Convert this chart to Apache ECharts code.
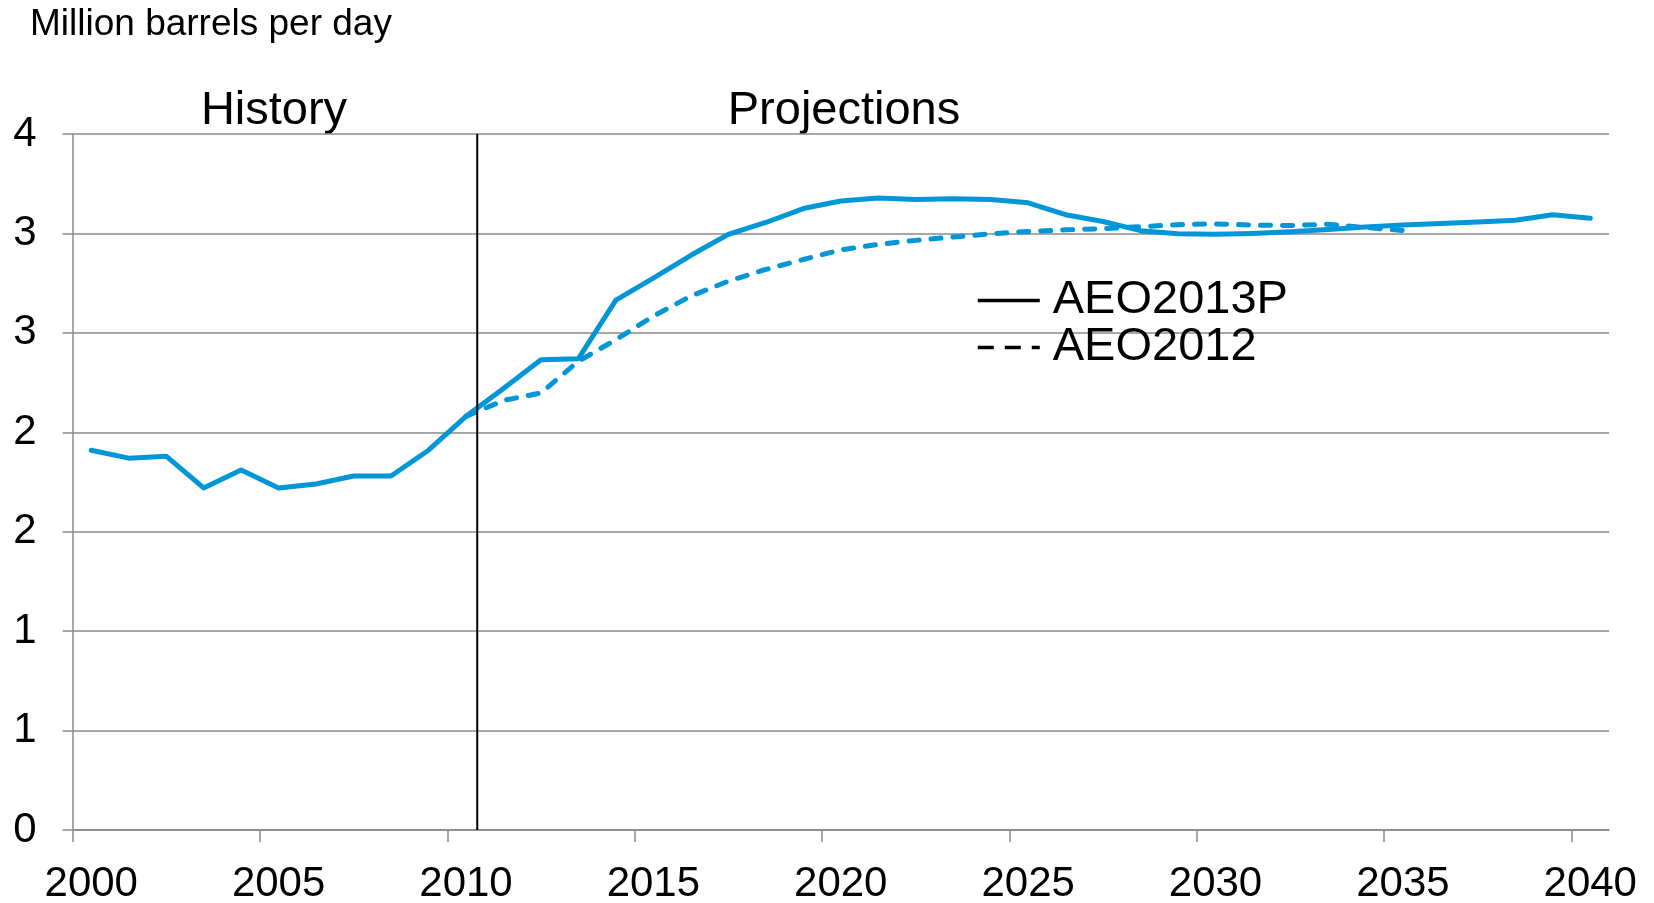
<!DOCTYPE html>
<html>
<head>
<meta charset="utf-8">
<script src="https://cdn.jsdelivr.net/npm/echarts/dist/echarts.min.js"></script>
<style>html,body{margin:0;padding:0;background:#fff}#c{width:1654px;height:903px}</style>
</head>
<body>
<div id="c"></div>
<script>
// ---- data ----
const years = ['2000','2001','2002','2003','2004','2005','2006','2007','2008','2009',
  '2010','2011','2012','2013','2014','2015','2016','2017','2018','2019',
  '2020','2021','2022','2023','2024','2025','2026','2027','2028','2029',
  '2030','2031','2032','2033','2034','2035','2036','2037','2038','2039','2040'];

const aeo2013p = [1.91, 1.87, 1.88, 1.72, 1.81, 1.72, 1.74, 1.78, 1.78, 1.91,
  2.08, 2.22, 2.365, 2.37, 2.665, 2.775, 2.89, 2.995, 3.055, 3.125,
  3.163, 3.178, 3.171, 3.174, 3.171, 3.154, 3.094, 3.06, 3.014, 2.998,
  2.996, 3.0, 3.008, 3.02, 3.032, 3.042, 3.05, 3.057, 3.066, 3.094, 3.076];

const aeo2012 = [null, null, null, null, null, null, null, null, null, null,
  2.08, 2.16, 2.198, 2.357, 2.466, 2.584, 2.685, 2.76, 2.819, 2.869,
  2.917, 2.945, 2.965, 2.982, 2.998, 3.01, 3.018, 3.024, 3.034, 3.044,
  3.048, 3.042, 3.04, 3.046, 3.03, 3.015];

const tickYears = [2000, 2005, 2010, 2015, 2020, 2025, 2030, 2035, 2040];
const yTickLabels = ['0','1','1','2','2','3','3','4'];
const dividerYear = 2010.3;
const seriesNames = ['AEO2013P', 'AEO2012'];
const sectionLabels = ['History', 'Projections'];
const unitLabel = 'Million barrels per day';

// ---- styles ----
const FONT = 'Liberation Sans, Arial, sans-serif';
const BLUE = '#0096D7';
const GRAY = '#8A8A8A';

const chart = echarts.init(document.getElementById('c'));
chart.setOption({
  animation: false,
  backgroundColor: '#fff',
  grid: { left: 72.5, right: 45, top: 134, bottom: 73, outerBoundsMode: 'none' },
  xAxis: [{
    type: 'category',
    data: years,
    boundaryGap: true,
    axisLine: { lineStyle: { color: GRAY, width: 1.5 } },
    axisTick: { show: false },
    axisLabel: { interval: 4, fontSize: 42, color: '#000', fontFamily: FONT, margin: 33 },
    splitLine: { show: false }
  }, {
    // band boundaries: each category spans year-0.5 .. year+0.5
    type: 'value',
    min: 1999.5,
    max: 2040.5,
    position: 'bottom',
    axisLine: { show: false },
    axisLabel: { show: false },
    splitLine: { show: false },
    axisTick: {
      show: true, length: 12,
      customValues: tickYears.map(y => y - 0.5),
      lineStyle: { color: GRAY, width: 1.5 }
    }
  }],
  yAxis: {
    type: 'value',
    min: 0,
    max: 3.5,
    interval: 0.5,
    axisLine: { show: true, lineStyle: { color: GRAY, width: 1.5 } },
    axisTick: { show: true, length: 10, lineStyle: { color: GRAY, width: 1.5 } },
    axisLabel: {
      fontSize: 42, color: '#000', fontFamily: FONT, margin: 36,
      formatter: v => yTickLabels[Math.round(v / 0.5)]
    },
    splitLine: { show: true, lineStyle: { color: GRAY, width: 1.5 } }
  },
  legend: {
    orient: 'vertical',
    left: 971,
    top: 272,
    itemWidth: 62,
    itemHeight: 14,
    itemGap: 0,
    data: [
      { name: seriesNames[0], lineStyle: { type: 'solid' } },
      { name: seriesNames[1], lineStyle: { type: [16, 11] } }
    ],
    textStyle: { fontSize: 47, lineHeight: 41, color: '#000', fontFamily: FONT, padding: [0, 0, 0, 8] },
    lineStyle: { color: '#000', width: 3.5, cap: 'butt' },
    itemStyle: { color: 'rgba(0,0,0,0)', borderWidth: 0, opacity: 0 }
  },
  graphic: [
    { type: 'text', left: 30, top: 6, style: { text: unitLabel, fontSize: 37, fill: '#000', fontFamily: FONT } },
    { type: 'text', x: 274, y: 111, style: { text: sectionLabels[0], fontSize: 47, fill: '#000', fontFamily: FONT, align: 'center', verticalAlign: 'middle' } },
    { type: 'text', x: 844, y: 111, style: { text: sectionLabels[1], fontSize: 47, fill: '#000', fontFamily: FONT, align: 'center', verticalAlign: 'middle' } }
  ],
  series: [{
    name: seriesNames[0],
    type: 'line',
    data: aeo2013p,
    symbol: 'none',
    color: BLUE,
    lineStyle: { color: BLUE, width: 5, join: 'round', cap: 'round' },
    z: 3
  }, {
    name: seriesNames[1],
    type: 'line',
    data: aeo2012,
    symbol: 'none',
    color: BLUE,
    lineStyle: { color: BLUE, width: 5, type: [10, 12], join: 'round', cap: 'round' },
    z: 2
  }, {
    name: 'divider',
    type: 'line',
    xAxisIndex: 1,
    data: [[dividerYear, 0], [dividerYear, 3.5]],
    symbol: 'none',
    silent: true,
    lineStyle: { color: '#000', width: 2 },
    z: 4
  }]
});
</script>
</body>
</html>
